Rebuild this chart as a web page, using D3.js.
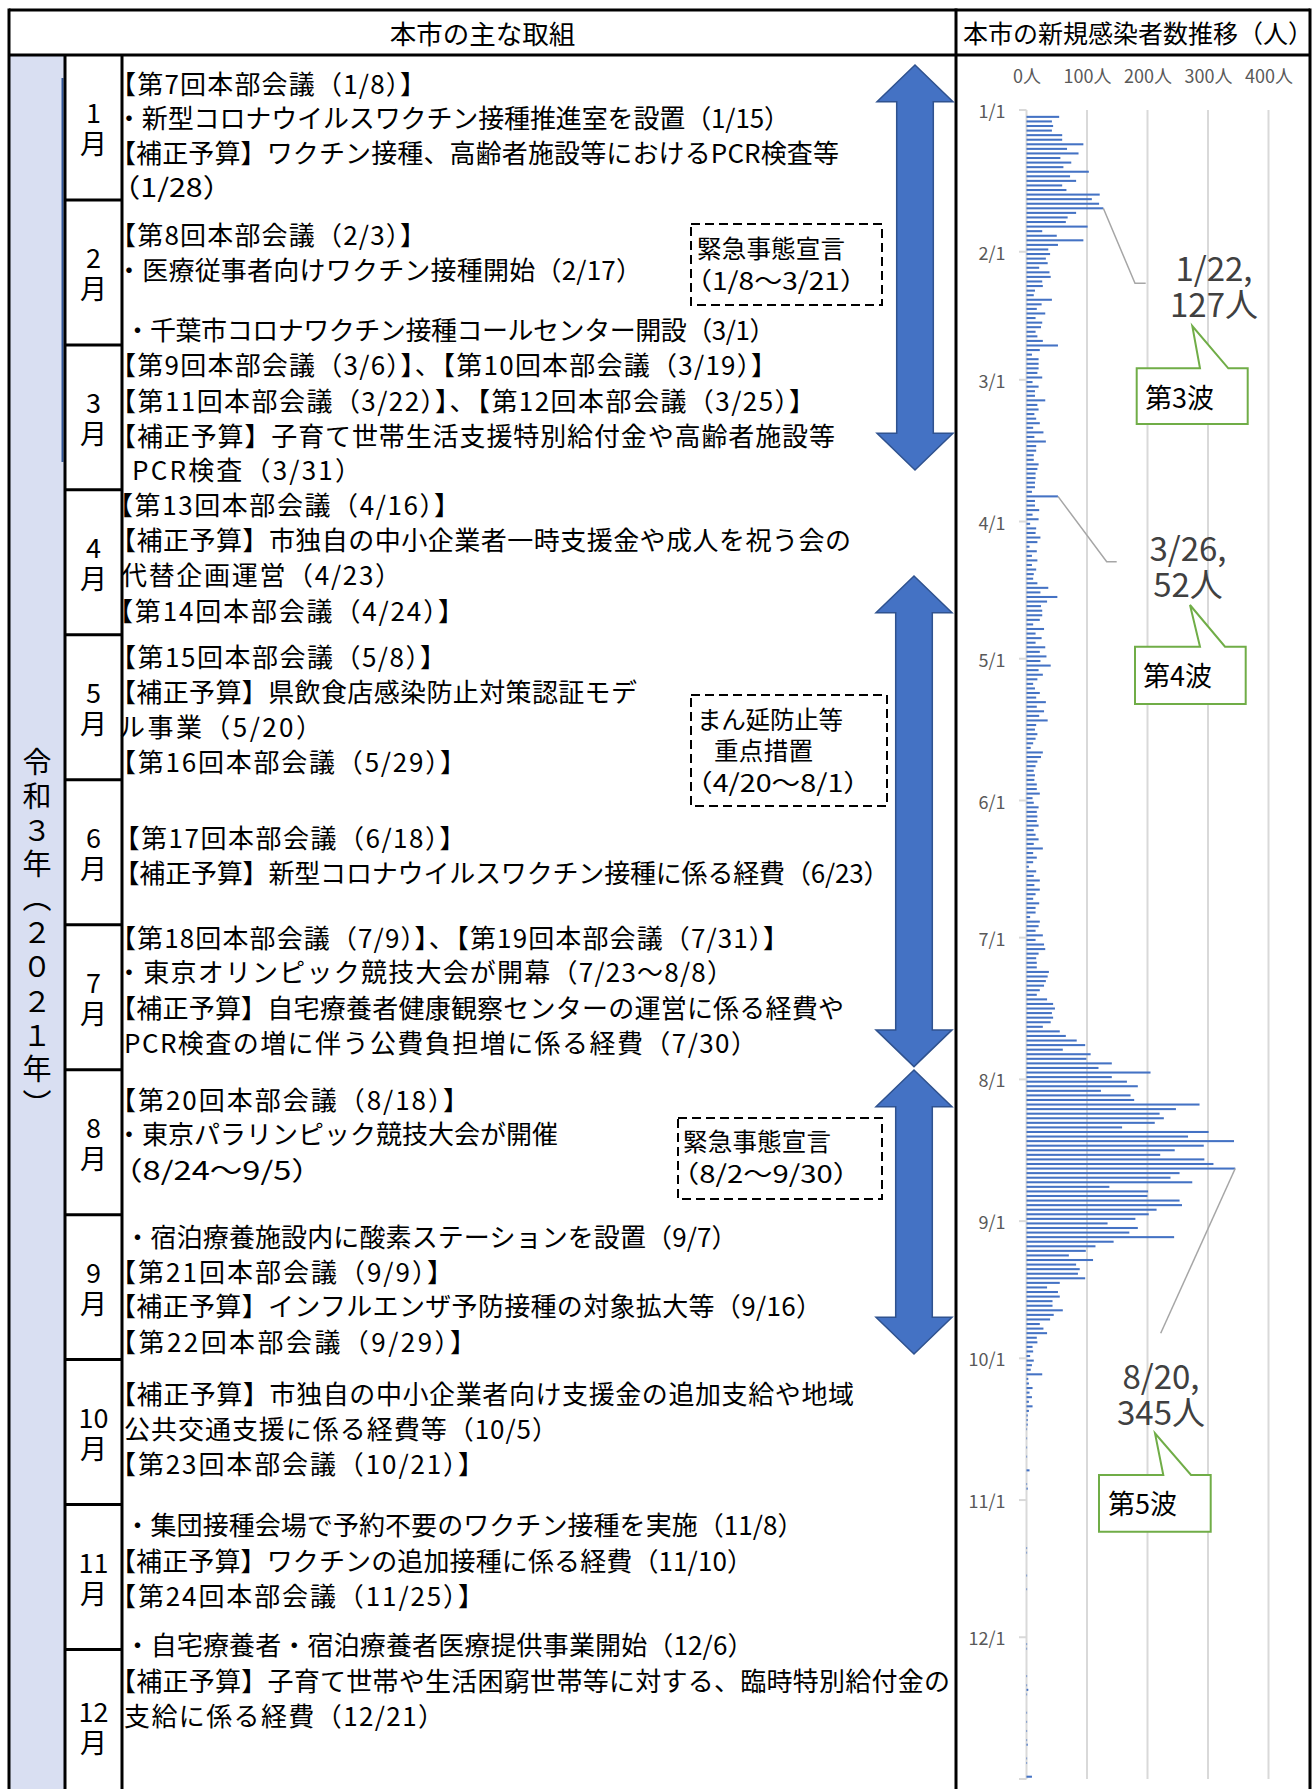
<!DOCTYPE html>
<html><head><meta charset="utf-8">
<script src="https://cdn.jsdelivr.net/npm/d3@7"></script>
<style>
html,body{margin:0;padding:0;background:#fff;}
svg{display:block;font-family:"Noto Sans CJK JP","Noto Sans",sans-serif;}
</style></head><body>
<svg id="c" width="1313" height="1789"></svg>
<script>
// ---------------- data ----------------
const monthNames = ["1","2","3","4","5","6","7","8","9","10","11","12"];
const daysInMonth = [31,28,31,30,31,30,31,31,30,31,30,31];
const tickLabels = ["1/1","2/1","3/1","4/1","5/1","6/1","7/1","8/1","9/1","10/1","11/1","12/1"];
const xTicks = [0,100,200,300,400];
const casesJan = [0,54,42,44,42,59,59,94,67,86,56,74,61,103,72,82,59,66,121,108,120,127,82,68,65,101,26,50,94,52,36];
const casesFeb = [39,32,35,21,38,40,26,27,14,12,42,25,17,31,15,26,24,15,18,27,52,22,9,20,20,20,18,26];
const casesMar = [10,20,14,14,31,18,20,13,16,22,11,28,13,32,16,16,12,12,20,18,15,15,14,14,9,52,14,14,21,10,20];
const casesApr = [6,16,15,23,18,5,17,9,18,9,16,12,11,18,36,23,51,34,24,26,26,22,11,29,15,25,15,31,22,33];
const casesMay = [23,40,20,27,18,11,14,22,16,32,17,29,21,35,16,14,18,15,11,7,27,24,18,15,12,14,13,17,17,22,10];
const casesJun = [12,20,17,18,17,20,12,15,20,12,27,11,17,11,4,16,12,22,13,22,15,11,21,15,15,6,22,20,15,27];
const casesJul = [15,29,31,20,16,17,17,37,35,32,29,22,17,34,44,47,42,44,40,27,55,65,83,97,60,106,99,141,119,205,141];
const casesAug = [166,184,123,172,178,286,247,220,227,212,158,301,267,343,293,245,221,294,309,345,253,238,274,137,201,200,253,257,215,202,180];
const casesSep = [134,184,170,244,144,114,98,70,110,82,88,85,97,55,34,52,55,43,43,60,45,39,22,28,34,17,18,10,11,6];
const casesOct = [12,9,7,26,3,4,10,5,9,4,10,4,2,2,2,1,0,1,0,1,0,1,0,0,5,0,0,1,2,0,0];
const casesNov = [0,0,0,0,0,0,0,0,0,0,1,1,0,0,0,0,1,0,0,1,0,0,0,0,0,0,0,0,0,0];
const casesDec = [0,1,1,0,0,0,0,0,1,0,1,3,1,0,0,0,1,0,1,0,1,0,1,2,0,0,1,1,0,0,9];
const annotatedDays = ["1/22","3/26","8/20"];
const waveLabels = ["第3波","第4波","第5波"];

// ---------------- build ----------------
const allMonths = [casesJan,casesFeb,casesMar,casesApr,casesMay,casesJun,casesJul,casesAug,casesSep,casesOct,casesNov,casesDec];
const series = [];
allMonths.forEach((arr,mi)=>{ for(let d=0; d<daysInMonth[mi]; d++) series.push({date:(mi+1)+"/"+(d+1), v:arr[d]}); });
const dates = series.map(d=>d.date);
const valueOf = Object.fromEntries(series.map(d=>[d.date,d.v]));

const W=1313,H=1789;
const svg = d3.select("#c");
const FONT = '"Noto Sans CJK JP","Noto Sans",sans-serif';
svg.append("rect").attr("width",W).attr("height",H).attr("fill","#fff");

// ---- table frame ----
const L=9,R=1310,T=10,HB=55,C1=65,C2=122,C3=956;
svg.append("rect").attr("x",L).attr("y",HB).attr("width",C1-L).attr("height",H-HB).attr("fill","#D9DFF2");
svg.append("line").attr("x1",62.5).attr("x2",62.5).attr("y1",78).attr("y2",462).attr("stroke","#2F5597").attr("stroke-width",2);

const rowH = (1649.5-HB)/11;
const frame = svg.append("g").attr("stroke","#000").attr("stroke-width",3);
frame.append("line").attr("x1",L).attr("x2",R).attr("y1",T).attr("y2",T);
frame.append("line").attr("x1",L).attr("x2",R).attr("y1",HB).attr("y2",HB);
[L,C3,R].forEach(x=>frame.append("line").attr("x1",x).attr("x2",x).attr("y1",T-1.5).attr("y2",H));
[C1,C2].forEach(x=>frame.append("line").attr("x1",x).attr("x2",x).attr("y1",HB).attr("y2",H));
for(let k=1;k<12;k++){ const yy=HB+k*rowH; frame.append("line").attr("x1",C1).attr("x2",C2).attr("y1",yy).attr("y2",yy); }

// headers
svg.append("text").attr("x",(L+C3)/2).attr("y",32).attr("text-anchor","middle").attr("dominant-baseline","central")
  .attr("font-size",26.5).text("本市の主な取組");
svg.append("text").attr("x",963).attr("y",32).attr("dominant-baseline","central")
  .attr("font-size",25).attr("textLength",350).attr("lengthAdjust","spacing").text("本市の新規感染者数推移（人）");

// vertical year label
svg.append("text").attr("x",37).attr("y",747).attr("font-size",29)
  .style("writing-mode","vertical-rl").style("letter-spacing","5.2px").text("令和３年（２０２１年）");

// month labels
monthNames.forEach((m,i)=>{
  const cy = HB + i*rowH + rowH/2 + (i===11?4:0);
  svg.append("text").attr("x",(C1+C2)/2).attr("y",cy-15.5).attr("text-anchor","middle").attr("dominant-baseline","central").attr("font-size",27).text(m);
  svg.append("text").attr("x",(C1+C2)/2).attr("y",cy+15.5).attr("text-anchor","middle").attr("dominant-baseline","central").attr("font-size",27).text("月");
});

// content lines
const lines = [
 {x:110,y:82,tl:316,t:"【第7回本部会議（1/8）】"},
 {x:116,y:116.4,tl:674,t:"・新型コロナウイルスワクチン接種推進室を設置（1/15）"},
 {x:110,y:151.7,tl:729,t:"【補正予算】ワクチン接種、高齢者施設等におけるPCR検査等"},
 {x:110,y:185.9,tl:123,t:"（1/28）"},
 {x:110,y:233.8,tl:316,t:"【第8回本部会議（2/3）】"},
 {x:116,y:268.1,tl:526,t:"・医療従事者向けワクチン接種開始（2/17）"},
 {x:124.5,y:328.5,tl:651,t:"・千葉市コロナワクチン接種コールセンター開設（3/1）"},
 {x:110,y:363.9,tl:667,t:"【第9回本部会議（3/6）】、【第10回本部会議（3/19）】"},
 {x:110,y:399.2,tl:705,t:"【第11回本部会議（3/22）】、【第12回本部会議（3/25）】"},
 {x:110,y:434.6,tl:725,t:"【補正予算】子育て世帯生活支援特別給付金や高齢者施設等"},
 {x:132,y:468.8,tl:229,t:"PCR検査（3/31）"},
 {x:107,y:503,tl:353,t:"【第13回本部会議（4/16）】"},
 {x:110,y:538.4,tl:741,t:"【補正予算】市独自の中小企業者一時支援金や成人を祝う会の"},
 {x:121,y:573.8,tl:280,t:"代替企画運営（4/23）"},
 {x:107,y:609.1,tl:357,t:"【第14回本部会議（4/24）】"},
 {x:110,y:655.9,tl:336,t:"【第15回本部会議（5/8）】"},
 {x:110,y:690.1,tl:527,t:"【補正予算】県飲食店感染防止対策認証モデ"},
 {x:119,y:725.5,tl:203,t:"ル事業（5/20）"},
 {x:110,y:760.9,tl:356,t:"【第16回本部会議（5/29）】"},
 {x:113.5,y:836.1,tl:352,t:"【第17回本部会議（6/18）】"},
 {x:113.5,y:871.5,tl:776,t:"【補正予算】新型コロナウイルスワクチン接種に係る経費（6/23）"},
 {x:110,y:936.5,tl:679,t:"【第18回本部会議（7/9）】、【第19回本部会議（7/31）】"},
 {x:116,y:970.7,tl:617,t:"・東京オリンピック競技大会が開幕（7/23～8/8）"},
 {x:110,y:1006.1,tl:734,t:"【補正予算】自宅療養者健康観察センターの運営に係る経費や"},
 {x:124,y:1041.5,tl:633,t:"PCR検査の増に伴う公費負担増に係る経費（7/30）"},
 {x:110,y:1098.5,tl:359,t:"【第20回本部会議（8/18）】"},
 {x:116,y:1132.7,tl:442,t:"・東京パラリンピック競技大会が開催"},
 {x:110,y:1168.1,tl:214,t:"（8/24～9/5）"},
 {x:124.5,y:1235.4,tl:613,t:"・宿泊療養施設内に酸素ステーションを設置（9/7）"},
 {x:110,y:1270.7,tl:343,t:"【第21回本部会議（9/9）】"},
 {x:110,y:1304.9,tl:712,t:"【補正予算】インフルエンザ予防接種の対象拡大等（9/16）"},
 {x:110,y:1340.3,tl:366,t:"【第22回本部会議（9/29）】"},
 {x:110,y:1392.8,tl:744,t:"【補正予算】市独自の中小企業者向け支援金の追加支給や地域"},
 {x:124,y:1427,tl:434,t:"公共交通支援に係る経費等（10/5）"},
 {x:110,y:1462.4,tl:374,t:"【第23回本部会議（10/21）】"},
 {x:124.5,y:1523.9,tl:679,t:"・集団接種会場で予約不要のワクチン接種を実施（11/8）"},
 {x:110,y:1559.3,tl:643,t:"【補正予算】ワクチンの追加接種に係る経費（11/10）"},
 {x:110,y:1594.7,tl:374,t:"【第24回本部会議（11/25）】"},
 {x:124.5,y:1643.7,tl:629,t:"・自宅療養者・宿泊療養者医療提供事業開始（12/6）"},
 {x:110,y:1679.1,tl:840,t:"【補正予算】子育て世帯や生活困窮世帯等に対する、臨時特別給付金の"},
 {x:124,y:1714.5,tl:320,t:"支給に係る経費（12/21）"}
];
svg.append("g").attr("font-size",26).selectAll("text").data(lines).join("text")
  .attr("x",d=>d.x).attr("y",d=>d.y).attr("dominant-baseline","central")
  .attr("textLength",d=>d.tl).attr("lengthAdjust",d=>d.t.startsWith("（")?"spacingAndGlyphs":"spacing").text(d=>d.t);

// dashed boxes
const boxes = [
 {x:691,y:224,w:191,h:81,lines:[{dx:6,dy:23.5,tl:148,t:"緊急事態宣言"},{dx:-7,dy:55.5,tl:184,t:"（1/8～3/21）"}]},
 {x:691,y:695,w:196,h:111,lines:[{dx:6,dy:23.6,tl:146,t:"まん延防止等"},{dx:23,dy:54.4,tl:99,t:"重点措置"},{dx:-7,dy:86.4,tl:188,t:"（4/20～8/1）"}]},
 {x:678,y:1118,w:204,h:81,lines:[{dx:5,dy:22.7,tl:148,t:"緊急事態宣言"},{dx:-8,dy:54.6,tl:192,t:"（8/2～9/30）"}]}
];
boxes.forEach(b=>{
  svg.append("rect").attr("x",b.x).attr("y",b.y).attr("width",b.w).attr("height",b.h)
    .attr("fill","none").attr("stroke","#000").attr("stroke-width",2).attr("stroke-dasharray","9,5");
  b.lines.forEach(l=>svg.append("text").attr("x",b.x+l.dx).attr("y",b.y+l.dy).attr("dominant-baseline","central")
    .attr("font-size",24.5).attr("textLength",l.tl).attr("lengthAdjust",l.t.startsWith("（")?"spacingAndGlyphs":"spacing").text(l.t));
});

// blue double arrows
function dblArrow(cx,top,bot){
  const hw=38,sw=18.3,hl=36.7;
  return `M${cx},${top}L${cx+hw},${top+hl}L${cx+sw},${top+hl}L${cx+sw},${bot-hl}L${cx+hw},${bot-hl}L${cx},${bot}L${cx-hw},${bot-hl}L${cx-sw},${bot-hl}L${cx-sw},${top+hl}L${cx-hw},${top+hl}Z`;
}
[[915,65,470],[914,576,1066.6],[914,1070,1354]].forEach(a=>{
  svg.append("path").attr("d",dblArrow(...a)).attr("fill","#4472C4").attr("stroke","#2F528F").attr("stroke-width",1.5);
});

// ---------------- chart ----------------
const x = d3.scaleLinear().domain([0,400]).range([1026.5,1268.5]);
const y = d3.scaleBand().domain(dates).range([110,1779]).paddingInner(0.55).paddingOuter(0.275);
const slotStart = d => y(d) - y.step()*y.paddingOuter();

const chart = svg.append("g");
chart.append("g").selectAll("line").data(xTicks).join("line")
  .attr("x1",d=>x(d)).attr("x2",d=>x(d)).attr("y1",110).attr("y2",1779)
  .attr("stroke","#D9D9D9").attr("stroke-width",2);
// month tick marks
const tickYs = tickLabels.map(slotStart).concat([y.range()[1]]);
chart.append("g").selectAll("line").data(tickYs).join("line")
  .attr("x1",x(0)-7.5).attr("x2",x(0)).attr("y1",d=>d).attr("y2",d=>d)
  .attr("stroke","#D9D9D9").attr("stroke-width",2);

const gx = chart.append("g").attr("transform","translate(0,83)")
  .call(d3.axisTop(x).tickValues(xTicks).tickFormat(d=>d+"人").tickSize(0).tickPadding(0));
gx.select(".domain").remove();
gx.attr("font-family",FONT).attr("font-size",18);
gx.selectAll("text").attr("fill","#595959");

const gy = chart.append("g").attr("transform",`translate(${x(0)},0)`)
  .call(d3.axisLeft(y).tickValues(tickLabels).tickSize(0).tickPadding(21));
gy.select(".domain").remove();
gy.attr("font-family",FONT).attr("font-size",18);
gy.selectAll("text").attr("fill","#595959");

chart.append("g").selectAll("rect").data(series).join("rect")
  .attr("x",x(0)).attr("y",d=>y(d.date)).attr("height",y.bandwidth())
  .attr("width",d=>x(d.v)-x(0)).attr("fill","#4472C4");

// leader lines and data labels
const annPos = [
 {pts:[[1135,283.3],[1145.7,283.3]], cx:1214, cy:266.7},
 {pts:[[1106.7,561.7],[1116.7,561.7]], cx:1188, cy:546.7},
 {pts:[[1160.7,1333.3]], cx:1161, cy:1375}
];
annotatedDays.forEach((d,i)=>{
  const p = annPos[i];
  const start = [x(valueOf[d]), y(d)+y.bandwidth()/2];
  chart.append("path").attr("d", d3.line()([start,...p.pts])).attr("fill","none").attr("stroke","#A6A6A6").attr("stroke-width",1.5);
  const t = chart.append("text").attr("text-anchor","middle").attr("font-size",33).attr("fill","#404040");
  t.append("tspan").attr("x",p.cx).attr("y",p.cy).attr("dominant-baseline","central").text(d+",");
  t.append("tspan").attr("x",p.cx).attr("y",p.cy+36).attr("dominant-baseline","central").text(valueOf[d]+"人");
});

// wave callouts
const callouts = [
 {l:1136.7,t:368.3,r:1247.7,b:424,p1:1200,p2:1228.3,tip:[1192.3,326],tx:1145,ty:396},
 {l:1135,t:646.7,r:1245.7,b:704,p1:1200,p2:1225,tip:[1190,605],tx:1143,ty:674},
 {l:1099,t:1475,r:1210.7,b:1531.7,p1:1163.3,p2:1191,tip:[1155,1433.3],tx:1108,ty:1502}
];
callouts.forEach((c,i)=>{
  const pts=[[c.l,c.t],[c.p1,c.t],c.tip,[c.p2,c.t],[c.r,c.t],[c.r,c.b],[c.l,c.b]];
  chart.append("path").attr("d",d3.line()(pts)+"Z").attr("fill","#fff").attr("stroke","#70AD47").attr("stroke-width",2);
  chart.append("text").attr("x",c.tx).attr("y",c.ty).attr("dominant-baseline","central").attr("font-size",27).text(waveLabels[i]);
});
</script>
</body></html>
